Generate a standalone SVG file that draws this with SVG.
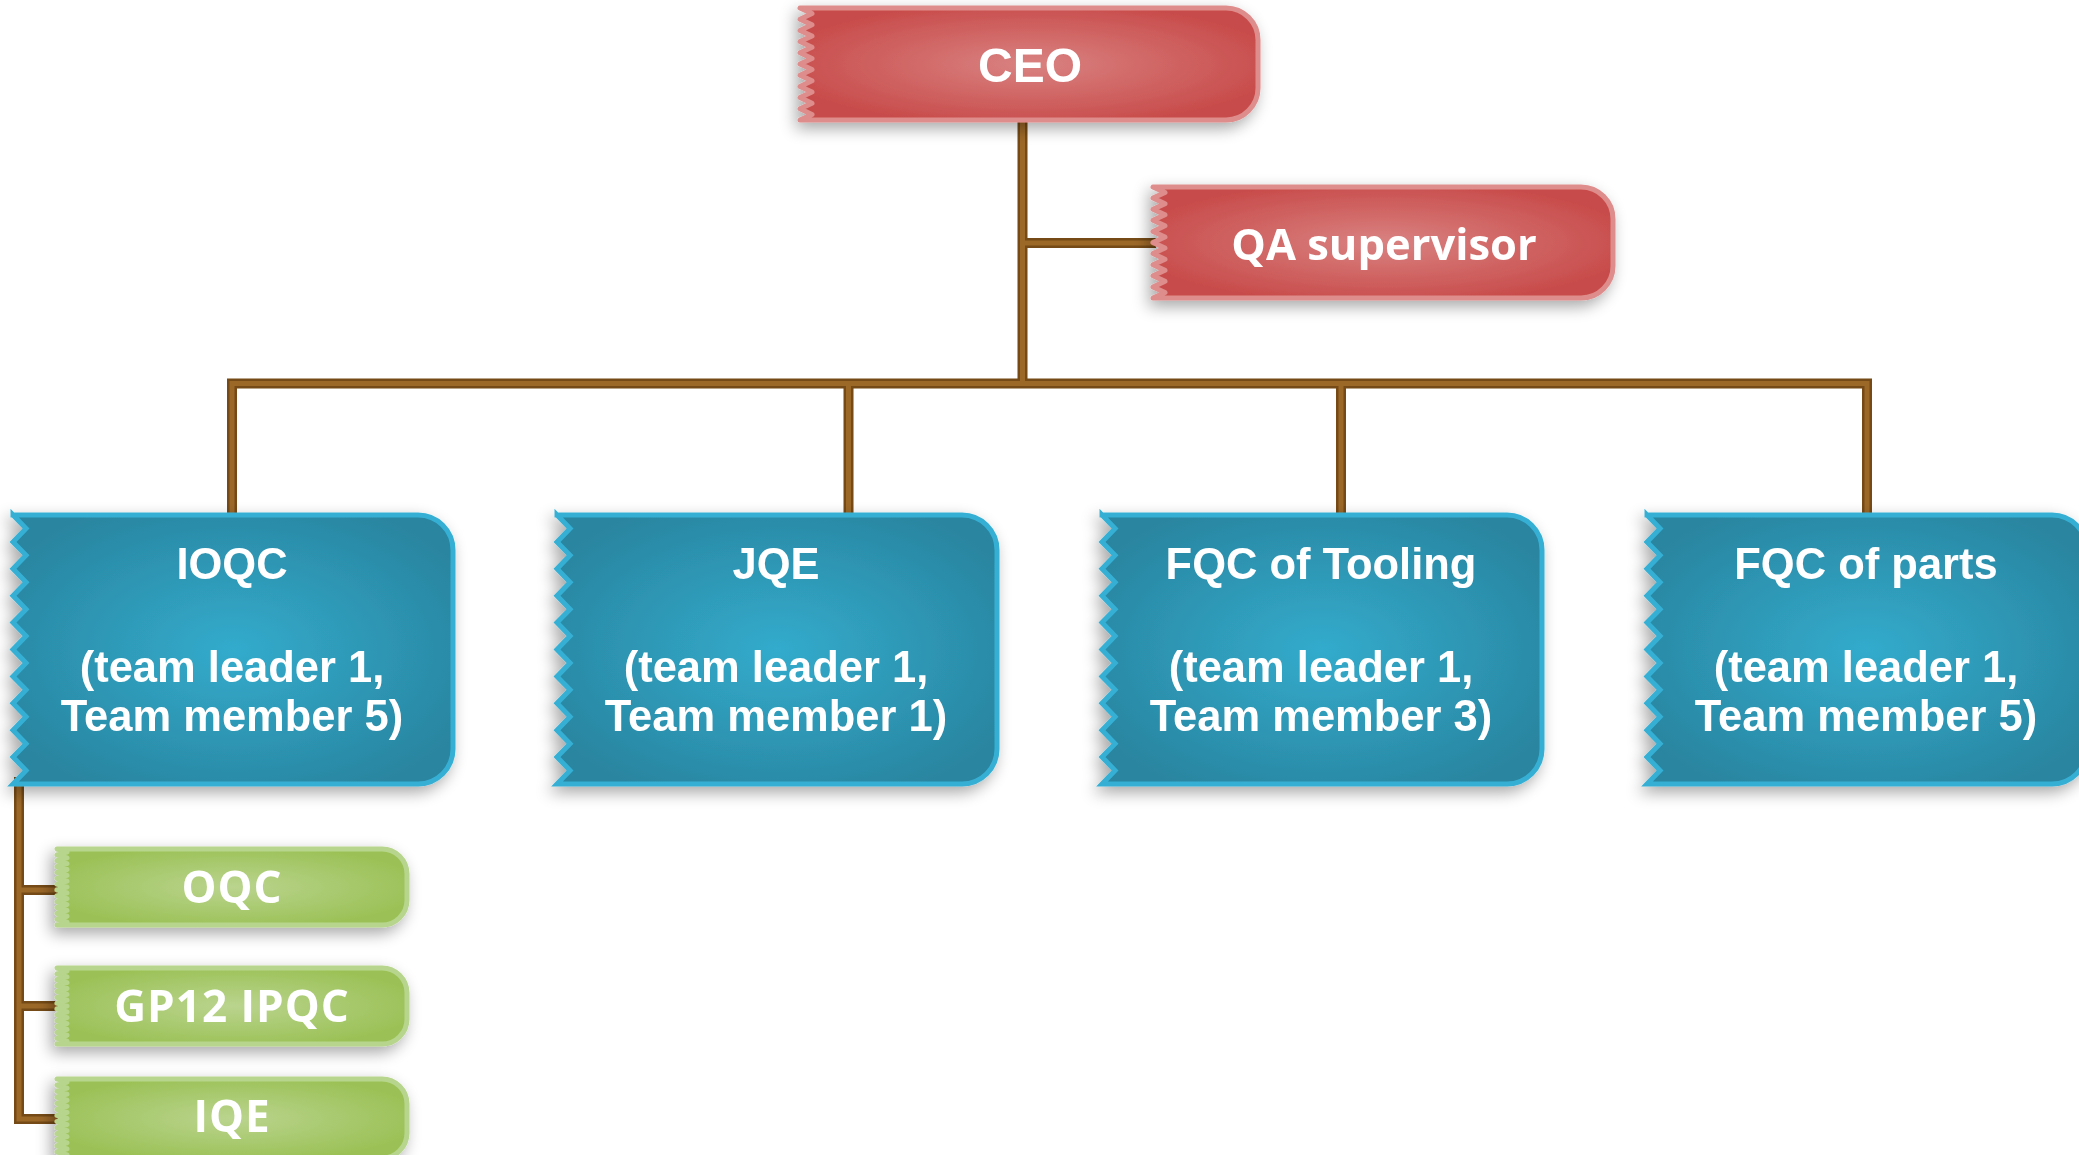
<svg xmlns="http://www.w3.org/2000/svg" width="2079" height="1155" viewBox="0 0 2079 1155">
<defs>
  <radialGradient id="gRed" cx="0.5" cy="0.5" r="0.55">
    <stop offset="0" stop-color="#d98281"/>
    <stop offset="1" stop-color="#c84c4b"/>
  </radialGradient>
  <radialGradient id="gBlue" cx="0.5" cy="0.5" r="0.6">
    <stop offset="0" stop-color="#33abcc"/>
    <stop offset="1" stop-color="#2985a0"/>
  </radialGradient>
  <radialGradient id="gGreen" cx="0.5" cy="0.5" r="0.55">
    <stop offset="0" stop-color="#bad48e"/>
    <stop offset="1" stop-color="#9bc156"/>
  </radialGradient>
  <filter id="shadow" x="-20%" y="-30%" width="140%" height="170%">
    <feGaussianBlur in="SourceAlpha" stdDeviation="8"/>
    <feOffset dx="-4" dy="6" result="b"/>
    <feComponentTransfer><feFuncA type="linear" slope="0.35"/></feComponentTransfer>
    <feMerge><feMergeNode/><feMergeNode in="SourceGraphic"/></feMerge>
  </filter>
</defs>
<style>
  .pipe-o{fill:none;stroke:#754a16;stroke-width:10;stroke-linejoin:miter;stroke-linecap:butt}
  .pipe-i{fill:none;stroke:#9c6828;stroke-width:5;stroke-linejoin:miter;stroke-linecap:butt}
  .red{fill:url(#gRed);stroke:#de8d8c;stroke-width:5;stroke-linejoin:round}
  .blue{fill:url(#gBlue);stroke:#36b0d4;stroke-width:5;stroke-linejoin:miter}
  .green{fill:url(#gGreen);stroke:#b7d58c;stroke-width:5;stroke-linejoin:round}
  .ta{font-family:"Liberation Sans",Arial,sans-serif;font-weight:bold;fill:#ffffff;text-anchor:middle}
  .to{font-family:"Open Sans","Noto Sans",sans-serif;font-weight:bold;fill:#ffffff;text-anchor:middle}
  .tb{font-size:43.5px}
  .tg{font-size:44px;letter-spacing:1px}
</style>
<rect width="2079" height="1155" fill="#ffffff"/>
<g id="connectors">
  <path class="pipe-o" d="M1022.5,119 V384 M1022.5,243 H1156 M232,515 V383.5 H1867 V515 M848.5,383.5 V515 M1341,383.5 V515 M19,777 V1119 H58 M19,890 H58 M19,1006 H58"/>
  <path class="pipe-i" d="M1022.5,119 V384 M1022.5,243 H1156 M232,515 V383.5 H1867 V515 M848.5,383.5 V515 M1341,383.5 V515 M19,777 V1119 H58 M19,890 H58 M19,1006 H58"/>
</g>
<g id="ceo" filter="url(#shadow)">
  <path class="red" d="M800,8 H1226 A32,32 0 0 1 1258,40 V88 A32,32 0 0 1 1226,120 H800 l12,-5.6 l-12,-5.6 l12,-5.6 l-12,-5.6 l12,-5.6 l-12,-5.6 l12,-5.6 l-12,-5.6 l12,-5.6 l-12,-5.6 l12,-5.6 l-12,-5.6 l12,-5.6 l-12,-5.6 l12,-5.6 l-12,-5.6 l12,-5.6 l-12,-5.6 l12,-5.6 l-12,-5.6 Z"/>
  <text class="ta" x="1030" y="82" font-size="48">CEO</text>
</g>
<g id="qa-supervisor" filter="url(#shadow)">
  <path class="red" d="M1153,187 H1581 A32,32 0 0 1 1613,219 V266 A32,32 0 0 1 1581,298 H1153 l12,-5.55 l-12,-5.55 l12,-5.55 l-12,-5.55 l12,-5.55 l-12,-5.55 l12,-5.55 l-12,-5.55 l12,-5.55 l-12,-5.55 l12,-5.55 l-12,-5.55 l12,-5.55 l-12,-5.55 l12,-5.55 l-12,-5.55 l12,-5.55 l-12,-5.55 l12,-5.55 l-12,-5.55 Z"/>
  <text class="to" x="1384" y="260" font-size="43.5">QA supervisor</text>
</g>
<g id="ioqc" filter="url(#shadow)">
  <path class="blue" d="M13,515 H418 A35,35 0 0 1 453,550 V749 A35,35 0 0 1 418,784 H13 l13,-13.45 l-13,-13.45 l13,-13.45 l-13,-13.45 l13,-13.45 l-13,-13.45 l13,-13.45 l-13,-13.45 l13,-13.45 l-13,-13.45 l13,-13.45 l-13,-13.45 l13,-13.45 l-13,-13.45 l13,-13.45 l-13,-13.45 l13,-13.45 l-13,-13.45 l13,-13.45 l-13,-13.45 Z"/>
  <text class="ta tb" x="232" y="579">IOQC</text>
  <text class="ta tb" x="232" y="682">(team leader 1,</text>
  <text class="ta tb" x="232" y="731">Team member 5)</text>
</g>
<g id="jqe" filter="url(#shadow)">
  <path class="blue" d="M557,515 H962 A35,35 0 0 1 997,550 V749 A35,35 0 0 1 962,784 H557 l13,-13.45 l-13,-13.45 l13,-13.45 l-13,-13.45 l13,-13.45 l-13,-13.45 l13,-13.45 l-13,-13.45 l13,-13.45 l-13,-13.45 l13,-13.45 l-13,-13.45 l13,-13.45 l-13,-13.45 l13,-13.45 l-13,-13.45 l13,-13.45 l-13,-13.45 l13,-13.45 l-13,-13.45 Z"/>
  <text class="ta tb" x="776" y="579">JQE</text>
  <text class="ta tb" x="776" y="682">(team leader 1,</text>
  <text class="ta tb" x="776" y="731">Team member 1)</text>
</g>
<g id="fqc-tooling" filter="url(#shadow)">
  <path class="blue" d="M1102,515 H1507 A35,35 0 0 1 1542,550 V749 A35,35 0 0 1 1507,784 H1102 l13,-13.45 l-13,-13.45 l13,-13.45 l-13,-13.45 l13,-13.45 l-13,-13.45 l13,-13.45 l-13,-13.45 l13,-13.45 l-13,-13.45 l13,-13.45 l-13,-13.45 l13,-13.45 l-13,-13.45 l13,-13.45 l-13,-13.45 l13,-13.45 l-13,-13.45 l13,-13.45 l-13,-13.45 Z"/>
  <text class="ta tb" x="1321" y="579">FQC of Tooling</text>
  <text class="ta tb" x="1321" y="682">(team leader 1,</text>
  <text class="ta tb" x="1321" y="731">Team member 3)</text>
</g>
<g id="fqc-parts" filter="url(#shadow)">
  <path class="blue" d="M1647,515 H2052 A35,35 0 0 1 2087,550 V749 A35,35 0 0 1 2052,784 H1647 l13,-13.45 l-13,-13.45 l13,-13.45 l-13,-13.45 l13,-13.45 l-13,-13.45 l13,-13.45 l-13,-13.45 l13,-13.45 l-13,-13.45 l13,-13.45 l-13,-13.45 l13,-13.45 l-13,-13.45 l13,-13.45 l-13,-13.45 l13,-13.45 l-13,-13.45 l13,-13.45 l-13,-13.45 Z"/>
  <text class="ta tb" x="1866" y="579">FQC of parts</text>
  <text class="ta tb" x="1866" y="682">(team leader 1,</text>
  <text class="ta tb" x="1866" y="731">Team member 5)</text>
</g>
<g id="oqc" filter="url(#shadow)">
  <path class="green" d="M57,849 H382 A25,25 0 0 1 407,874 V900 A25,25 0 0 1 382,925 H57 l10,-2.92 l-10,-2.92 l10,-2.92 l-10,-2.92 l10,-2.92 l-10,-2.92 l10,-2.92 l-10,-2.92 l10,-2.92 l-10,-2.92 l10,-2.92 l-10,-2.92 l10,-2.92 l-10,-2.92 l10,-2.92 l-10,-2.92 l10,-2.92 l-10,-2.92 l10,-2.92 l-10,-2.92 l10,-2.92 l-10,-2.92 l10,-2.92 l-10,-2.92 l10,-2.92 l-10,-2.92 Z"/>
  <text class="to tg" x="232" y="903">OQC</text>
</g>
<g id="gp12-ipqc" filter="url(#shadow)">
  <path class="green" d="M57,968 H382 A25,25 0 0 1 407,993 V1019 A25,25 0 0 1 382,1044 H57 l10,-2.92 l-10,-2.92 l10,-2.92 l-10,-2.92 l10,-2.92 l-10,-2.92 l10,-2.92 l-10,-2.92 l10,-2.92 l-10,-2.92 l10,-2.92 l-10,-2.92 l10,-2.92 l-10,-2.92 l10,-2.92 l-10,-2.92 l10,-2.92 l-10,-2.92 l10,-2.92 l-10,-2.92 l10,-2.92 l-10,-2.92 l10,-2.92 l-10,-2.92 l10,-2.92 l-10,-2.92 Z"/>
  <text class="to tg" x="232" y="1022">GP12 IPQC</text>
</g>
<g id="iqe" filter="url(#shadow)">
  <path class="green" d="M57,1079 H382 A25,25 0 0 1 407,1104 V1133 A25,25 0 0 1 382,1158 H57 l10,-3.04 l-10,-3.04 l10,-3.04 l-10,-3.04 l10,-3.04 l-10,-3.04 l10,-3.04 l-10,-3.04 l10,-3.04 l-10,-3.04 l10,-3.04 l-10,-3.04 l10,-3.04 l-10,-3.04 l10,-3.04 l-10,-3.04 l10,-3.04 l-10,-3.04 l10,-3.04 l-10,-3.04 l10,-3.04 l-10,-3.04 l10,-3.04 l-10,-3.04 l10,-3.04 l-10,-3.04 Z"/>
  <text class="to tg" x="232" y="1132">IQE</text>
</g>
</svg>
